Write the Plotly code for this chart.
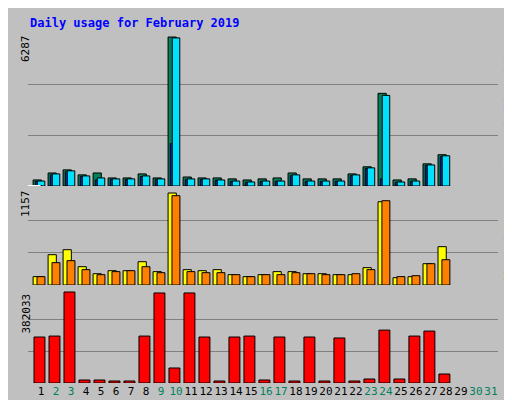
import plotly.graph_objects as go

days = list(range(1, 32))
weekend = [2, 3, 9, 10, 16, 17, 23, 24, 30, 31]
hits = [255, 550, 680, 470, 550, 340, 340, 510, 340, 6287, 380, 340, 340, 300, 255, 300,
        340, 550, 300, 300, 300, 510, 810, 3910, 255, 300, 935, 1320]
files = [190, 470, 600, 400, 255, 280, 280, 400, 280, 1785, 280, 280, 240, 200, 160, 200,
         200, 440, 200, 200, 200, 440, 740, 300, 160, 200, 860, 1240]
pages = [210, 510, 640, 425, 340, 300, 300, 425, 300, 6250, 300, 300, 255, 210, 170, 210,
         210, 470, 210, 210, 210, 470, 765, 3825, 170, 210, 890, 1275]
sites = [105, 381, 444, 230, 142, 180, 180, 293, 168, 1157, 193, 180, 193, 130, 105, 130,
         168, 168, 142, 142, 130, 130, 218, 1047, 92, 105, 268, 482]
visits = [105, 281, 306, 193, 130, 168, 180, 230, 155, 1123, 168, 155, 155, 130, 105, 130,
          130, 155, 142, 130, 130, 142, 193, 1060, 105, 117, 268, 318]
kbytes = [193000, 197000, 382033, 12600, 12600, 8400, 8400, 197000, 378000, 63000, 378000,
          193000, 8400, 193000, 197000, 12600, 193000, 8400, 193000, 8400, 189000, 8400,
          16800, 222000, 16800, 197000, 218000, 37800]
x = days[:len(hits)]

FONT = "DejaVu Sans Mono"
fig = go.Figure()
def bar(y, color, off, w, xa, ya):
    fig.add_trace(go.Bar(x=x, y=y, offset=off, width=w, marker_color=color,
                         marker_line_color="black", marker_line_width=1,
                         xaxis=xa, yaxis=ya, showlegend=False, hoverinfo="y"))
bar(hits, "#00805C", -0.53, 0.55, "x", "y")
bar(files, "#0040FF", -0.38, 0.13, "x", "y")
bar(pages, "#00E0FF", -0.25, 0.5, "x", "y")
bar(sites, "#FFFF00", -0.53, 0.55, "x2", "y2")
bar(visits, "#FF8000", -0.27, 0.53, "x2", "y2")
bar(kbytes, "#FF0000", -0.47, 0.73, "x3", "y3")

xr = [0.13, 31.47]
xdom = [20/512, 490/512]
R1, R2, R3 = 6287*152/148, 1157*97/92, 403000
ticktext = [f"<span style='color:{'#00805C' if d in weekend else 'black'}'>{d}</span>" for d in days]
common_x = dict(range=xr, domain=xdom, showgrid=False, zeroline=False, fixedrange=True)
fig.update_layout(
    width=512, height=400, margin=dict(l=0, r=0, t=0, b=0),
    paper_bgcolor="#C0C0C0", plot_bgcolor="#C0C0C0", barmode="overlay",
    font=dict(family=FONT, size=11, color="black"),
    xaxis=dict(**common_x, anchor="y", showticklabels=False),
    xaxis2=dict(**common_x, anchor="y2", showticklabels=False),
    xaxis3=dict(**common_x, anchor="y3", tickvals=days, ticktext=ticktext, ticks="",
                tickangle=0, tickfont=dict(size=11)),
    yaxis=dict(domain=[0.555, 0.9375], range=[0, R1], tickvals=[R1/3, 2*R1/3],
               showticklabels=False, gridcolor="#808080", zeroline=False),
    yaxis2=dict(domain=[0.3075, 0.55], range=[0, R2], tickvals=[R2/3, 2*R2/3],
                showticklabels=False, gridcolor="#808080", zeroline=False),
    yaxis3=dict(domain=[0.0625, 0.3025], range=[0, R3], tickvals=[R3/3, 2*R3/3],
                showticklabels=False, gridcolor="#808080", zeroline=False),
)
ann = [
    dict(x=20/512, y=1-15/400, text="<b>Daily usage for February 2019</b>", xanchor="left",
         yanchor="middle", font=dict(color="#0000FF", size=12)),
    dict(x=9/512, y=0.9375, text="6287", textangle=-90, xanchor="left", yanchor="top"),
    dict(x=9/512, y=0.55, text="1157", textangle=-90, xanchor="left", yanchor="top"),
    dict(x=9/512, y=0.29, text="382033", textangle=-90, xanchor="left", yanchor="top"),
    dict(x=492/512, y=0.9375, yanchor="top", textangle=-90, xanchor="left",
         text="<span style='color:#00E0FF'>Pages</span> / <span style='color:#0040FF'>Files</span> / <span style='color:#00805C'>Hits</span>"),
    dict(x=492/512, y=0.55, yanchor="top", textangle=-90, xanchor="left",
         text="<span style='color:#FF8000'>Sites</span> / <span style='color:#FFFF00'>Visits</span>"),
    dict(x=492/512, y=0.0625, yanchor="bottom", textangle=-90, xanchor="left",
         text="<span style='color:#FF0000'>KBytes</span>"),
]
for a in ann:
    a.update(xref="paper", yref="paper", showarrow=False)
fig.update_layout(annotations=ann)
shapes = [
    dict(type="rect", x0=506/512, x1=1, y0=0, y1=1, fillcolor="#808080", line_width=0, layer="below"),
    dict(type="rect", x0=0, x1=1, y0=0, y1=6/400, fillcolor="#808080", line_width=0, layer="below"),
    dict(type="rect", x0=0, x1=1, y0=0, y1=1, line=dict(color="black", width=2)),
]
for y0, y1 in [(0.555, 0.9375), (0.3075, 0.55), (0.0625, 0.3025)]:
    shapes.append(dict(type="line", x0=xdom[0], x1=xdom[0], y0=y0, y1=y1, line=dict(color="black", width=2)))
    shapes.append(dict(type="line", x0=xdom[0], x1=xdom[1], y0=y1, y1=y1, line=dict(color="black", width=2)))
    shapes.append(dict(type="line", x0=xdom[1], x1=xdom[1], y0=y0, y1=y1, line=dict(color="white", width=2)))
    shapes.append(dict(type="line", x0=xdom[0], x1=xdom[1], y0=y0, y1=y0, line=dict(color="white", width=2)))
fig.update_layout(shapes=shapes)
fig.write_html("out.html")
